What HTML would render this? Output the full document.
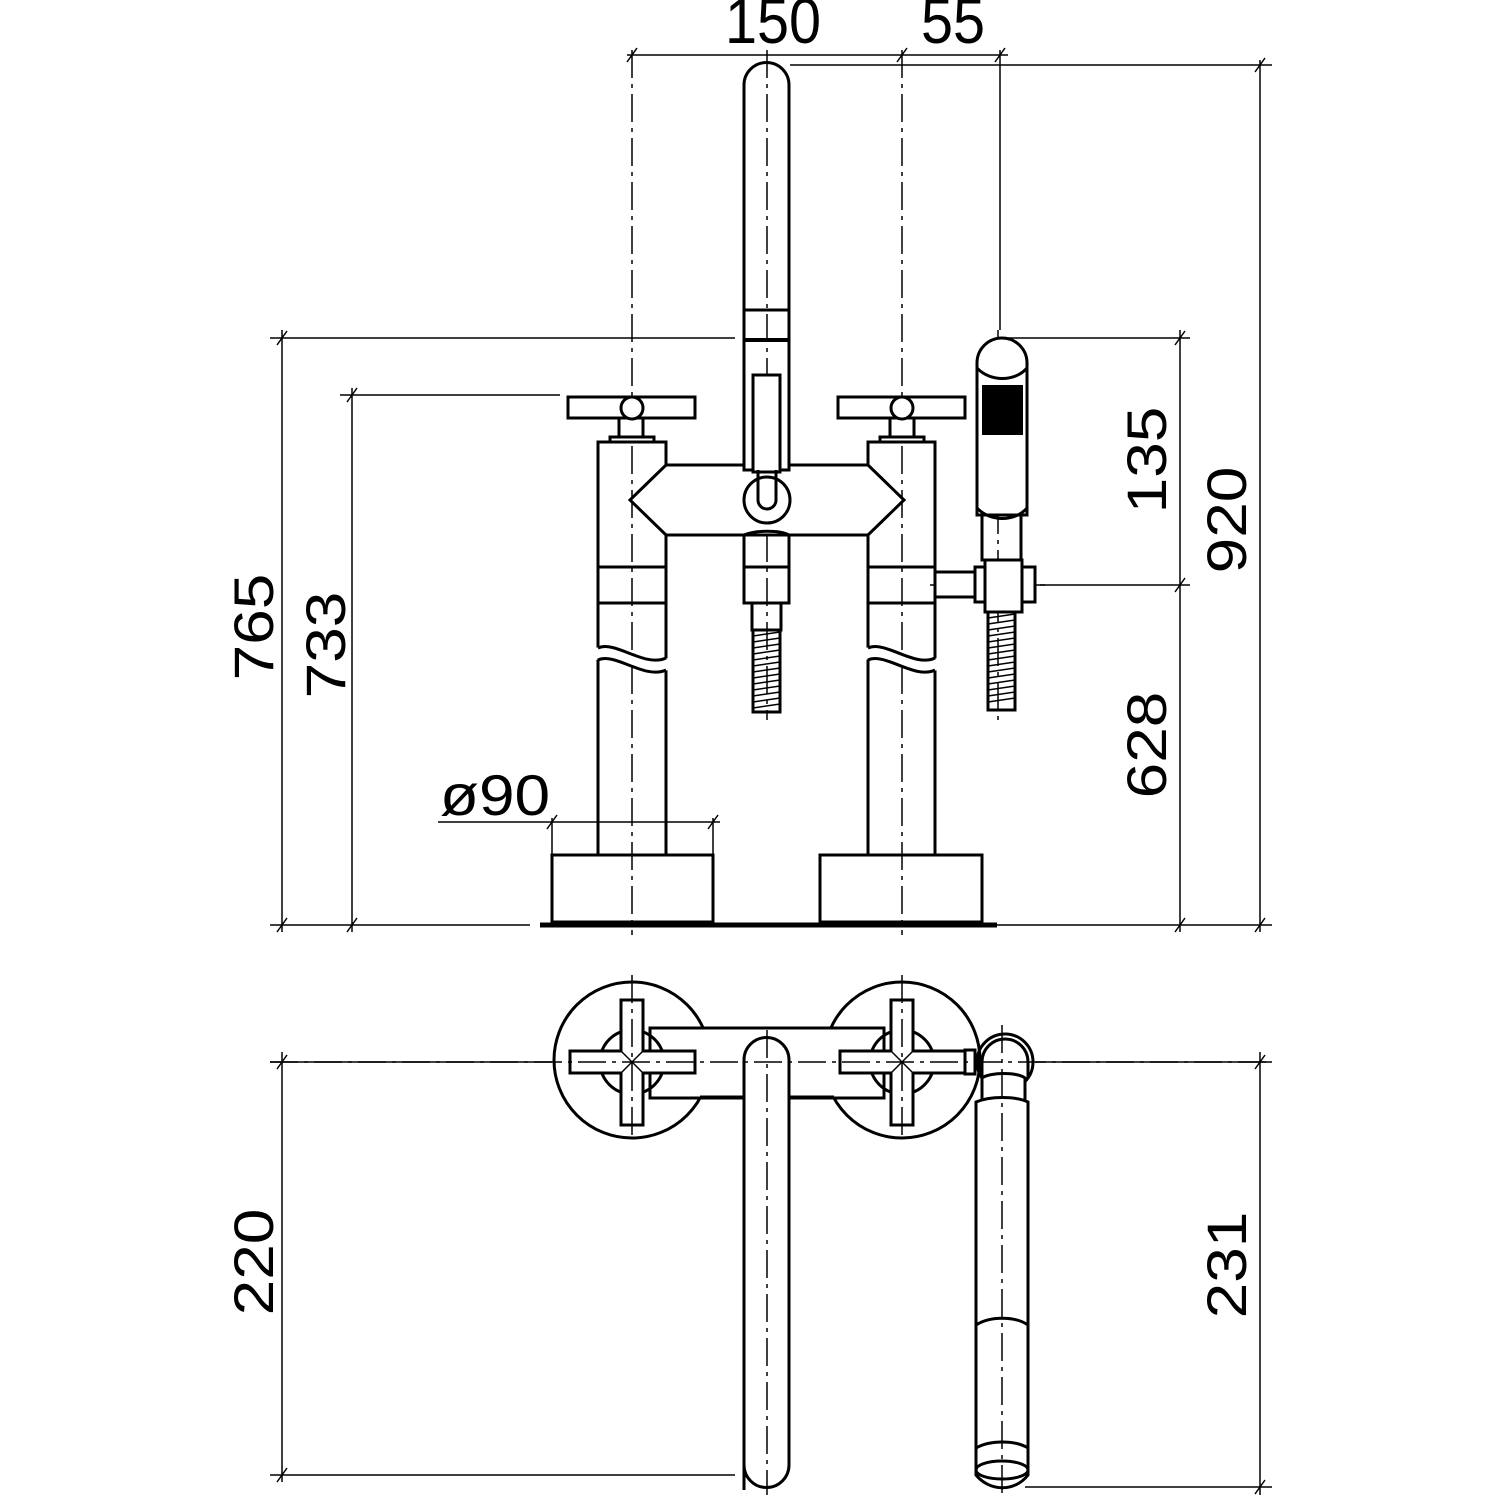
<!DOCTYPE html>
<html><head><meta charset="utf-8"><style>html,body{margin:0;padding:0;background:#fff}svg{display:block}</style></head>
<body>
<svg width="1500" height="1500" viewBox="0 0 1500 1500" xmlns="http://www.w3.org/2000/svg">
<defs>
<style>
.o{fill:none;stroke:#000;stroke-width:3}
.t{fill:none;stroke:#000;stroke-width:1.5}
.c{fill:none;stroke:#000;stroke-width:1.5;stroke-dasharray:28 6 4 6}
.w{fill:#fff;stroke:#000;stroke-width:3}
text{font-family:"Liberation Sans",sans-serif;font-size:64px;fill:#000}
</style>
</defs>
<line class="c" x1="632" y1="50" x2="632" y2="935"/>
<line class="c" x1="902" y1="50" x2="902" y2="935"/>
<line class="c" x1="767" y1="50" x2="767" y2="720"/>
<line class="c" x1="998" y1="330" x2="998" y2="720"/>
<line class="c" x1="930" y1="585" x2="1045" y2="585"/>
<line class="t" x1="627" y1="55" x2="1008" y2="55"/>
<line class="t" x1="790" y1="65" x2="1272" y2="65"/>
<line class="t" x1="270" y1="338" x2="735" y2="338"/>
<line class="t" x1="340" y1="395" x2="560" y2="395"/>
<line class="t" x1="1005" y1="338" x2="1190" y2="338"/>
<line class="t" x1="1040" y1="585" x2="1190" y2="585"/>
<line class="t" x1="270" y1="925" x2="530" y2="925"/>
<line class="t" x1="997" y1="925" x2="1272" y2="925"/>
<line class="t" x1="1260" y1="60" x2="1260" y2="932"/>
<line class="t" x1="1180" y1="330" x2="1180" y2="932"/>
<line class="t" x1="282" y1="330" x2="282" y2="932"/>
<line class="t" x1="352" y1="388" x2="352" y2="932"/>
<line class="t" x1="438" y1="822" x2="720" y2="822"/>
<line class="t" x1="552" y1="818" x2="552" y2="855"/>
<line class="t" x1="713" y1="818" x2="713" y2="855"/>
<line class="t" x1="1000" y1="50" x2="1000" y2="330"/>
<g class="t">
<line x1="627" y1="62" x2="637" y2="48"/><line x1="897" y1="62" x2="907" y2="48"/><line x1="995" y1="62" x2="1005" y2="48"/>
<line x1="1255" y1="72" x2="1265" y2="58"/><line x1="1255" y1="932" x2="1265" y2="918"/>
<line x1="1175" y1="345" x2="1185" y2="331"/><line x1="1175" y1="592" x2="1185" y2="578"/><line x1="1175" y1="932" x2="1185" y2="918"/>
<line x1="277" y1="345" x2="287" y2="331"/><line x1="277" y1="932" x2="287" y2="918"/>
<line x1="347" y1="402" x2="357" y2="388"/><line x1="347" y1="932" x2="357" y2="918"/>
<line x1="547" y1="829" x2="557" y2="815"/><line x1="708" y1="829" x2="718" y2="815"/>
</g>
<text transform="translate(773,43) scale(0.9,1)" text-anchor="middle">150</text>
<text transform="translate(953,43) scale(0.9,1)" text-anchor="middle">55</text>
<text transform="translate(1246,520) rotate(-90) scale(1,0.87)" text-anchor="middle">920</text>
<text transform="translate(1166,460) rotate(-90) scale(1,0.87)" text-anchor="middle">135</text>
<text transform="translate(1166,745) rotate(-90) scale(1,0.87)" text-anchor="middle">628</text>
<text transform="translate(273,627) rotate(-90) scale(1,0.87)" text-anchor="middle">765</text>
<text transform="translate(345,645) rotate(-90) scale(1,0.87)" text-anchor="middle">733</text>
<text transform="translate(495,815) scale(1,0.9)" text-anchor="middle">ø90</text>
<text transform="translate(273,1262) rotate(-90) scale(1,0.87)" text-anchor="middle">220</text>
<text transform="translate(1246,1265) rotate(-90) scale(1,0.87)" text-anchor="middle">231</text>

<path class="o" d="M744,470 V85 A22.5,22.5 0 0 1 789,85 V470"/>
<line class="o" x1="744" y1="310" x2="789" y2="310"/>
<line class="o" x1="744" y1="340" x2="789" y2="340" style="stroke-width:4"/>
<rect class="o" x="598" y="442" width="68" height="413"/>
<rect class="o" x="868" y="442" width="67" height="413"/>
<g class="o">
<line x1="598" y1="567" x2="666" y2="567"/><line x1="598" y1="603" x2="666" y2="603"/>
<line x1="868" y1="567" x2="935" y2="567"/><line x1="868" y1="603" x2="935" y2="603"/>
</g>
<path d="M596,648 C615,640 645,668 668,658 V670 C645,680 615,652 596,660 Z" fill="#fff"/>
<path class="o" d="M598,648 C615,640 645,668 666,658 M598,660 C615,652 645,680 666,670"/>
<path d="M866,648 C885,640 915,668 937,658 V670 C915,680 885,652 866,660 Z" fill="#fff"/>
<path class="o" d="M868,648 C885,640 915,668 935,658 M868,660 C885,652 915,680 935,670"/>
<path class="w" d="M666,465 H744 V470 H789 V465 H868 L904,500 L868,535 H789 C780,530 755,530 744,535 H666 L630,500 Z"/>
<rect class="w" x="753" y="375" width="27" height="97"/>
<circle class="o" cx="767" cy="500" r="23"/>
<path class="o" d="M758,470 V500 A9,9 0 0 0 776,500 V470"/>
<rect class="o" x="744" y="535" width="45" height="68"/>
<line class="o" x1="744" y1="567" x2="789" y2="567"/>
<rect class="o" x="752" y="603" width="29" height="27"/>
<rect class="o" x="753" y="630" width="27" height="82"/>
<g class="t" stroke-width="2">
<path d="M753,636 L780,632 M753,642 L780,638 M753,648 L780,644 M753,654 L780,650 M753,660 L780,656 M753,666 L780,662 M753,672 L780,668 M753,678 L780,674 M753,684 L780,680 M753,690 L780,686 M753,696 L780,692 M753,702 L780,698 M753,708 L780,704"/>
<path d="M988,618 L1015,614 M988,624 L1015,620 M988,630 L1015,626 M988,636 L1015,632 M988,642 L1015,638 M988,648 L1015,644 M988,654 L1015,650 M988,660 L1015,656 M988,666 L1015,662 M988,672 L1015,668 M988,678 L1015,674 M988,684 L1015,680 M988,690 L1015,686 M988,696 L1015,692 M988,702 L1015,698"/>
</g>
<rect class="w" x="568" y="397" width="127" height="21"/>
<rect class="w" x="619" y="418" width="24" height="19"/>
<rect class="w" x="610" y="437" width="44" height="5"/>
<circle class="w" cx="632" cy="408" r="11"/>
<rect class="w" x="838" y="397" width="127" height="21"/>
<rect class="w" x="890" y="418" width="24" height="19"/>
<rect class="w" x="880" y="437" width="44" height="5"/>
<circle class="w" cx="902" cy="408" r="11"/>
<path class="w" d="M977,515 V363 A25,25 0 0 1 1027,363 V515 Z"/>
<path class="o" d="M977,368 C990,382 1015,382 1027,368"/>
<rect x="982" y="385" width="41" height="50" fill="#000"/>
<path class="o" d="M977,508 C990,522 1015,522 1027,508"/>
<rect class="o" x="982" y="515" width="39" height="45"/>
<rect class="w" x="935" y="572" width="40" height="25"/>
<rect class="w" x="975" y="567" width="10" height="35"/>
<rect class="w" x="985" y="560" width="37" height="52"/>
<rect class="w" x="1022" y="567" width="13" height="35"/>
<rect class="o" x="988" y="612" width="27" height="98"/>
<rect class="o" x="552" y="855" width="161" height="67"/>
<rect class="o" x="820" y="855" width="162" height="67"/>
<line x1="540" y1="925" x2="997" y2="925" stroke="#000" stroke-width="5"/>

<line class="t" x1="270" y1="1062" x2="552" y2="1062"/>
<line class="t" x1="1035" y1="1062" x2="1272" y2="1062"/>
<line class="t" x1="282" y1="1052" x2="282" y2="1482"/>
<line class="t" x1="1260" y1="1052" x2="1260" y2="1495"/>
<line class="t" x1="270" y1="1475" x2="735" y2="1475"/>
<line class="t" x1="1025" y1="1487" x2="1272" y2="1487"/>
<g class="t"><line x1="277" y1="1069" x2="287" y2="1055"/><line x1="277" y1="1482" x2="287" y2="1468"/><line x1="1255" y1="1069" x2="1265" y2="1055"/><line x1="1255" y1="1494" x2="1265" y2="1480"/></g>
<circle class="o" cx="632" cy="1060" r="78"/>
<circle class="o" cx="902" cy="1060" r="78"/>
<rect class="w" x="650" y="1028" width="234" height="70" stroke="none"/>
<line class="o" x1="700" y1="1028" x2="834" y2="1028"/>
<line class="o" x1="700" y1="1097" x2="834" y2="1097"/>
<circle class="o" cx="632" cy="1062" r="32"/>
<circle class="o" cx="902" cy="1062" r="32"/>
<path class="w" d="M744,1490 V1060 A22.5,22.5 0 0 1 789,1060 V1465 A22.5,22.5 0 0 1 744,1465"/>
<g class="w">
<path d="M621,1000 H643 V1051 H695 V1073 H643 V1125 H621 V1073 H570 V1051 H621 Z"/>
<path d="M891,1000 H913 V1051 H965 V1073 H913 V1125 H891 V1073 H840 V1051 H891 Z"/>
</g>
<g class="t"><path d="M621,1051 L643,1073 M643,1051 L621,1073 M891,1051 L913,1073 M913,1051 L891,1073"/></g>
<rect class="w" x="965" y="1050" width="10" height="24"/>
<circle class="o" cx="1005" cy="1062" r="28"/>
<path class="o" d="M982,1078 V1062 A23,23 0 0 1 1028,1062 V1078"/>
<path class="w" d="M982,1078 C990,1072 1018,1072 1025,1078 V1100 H982 Z"/>
<path class="w" d="M976,1472 V1102 C990,1096 1015,1096 1028,1102 V1475 C1015,1492 990,1492 976,1475 Z"/>
<path class="o" d="M976,1325 C990,1316 1015,1316 1028,1325"/>
<path class="o" d="M976,1448 C990,1440 1015,1440 1028,1448"/>
<ellipse class="o" cx="1002" cy="1470" rx="26" ry="9"/>
<line class="c" x1="270" y1="1062" x2="1270" y2="1062"/>
<line class="c" x1="632" y1="975" x2="632" y2="1140"/>
<line class="c" x1="902" y1="975" x2="902" y2="1140"/>
<line class="c" x1="767" y1="1030" x2="767" y2="1495"/>
<line class="c" x1="1002" y1="1025" x2="1002" y2="1495"/>
</svg>
</body></html>
